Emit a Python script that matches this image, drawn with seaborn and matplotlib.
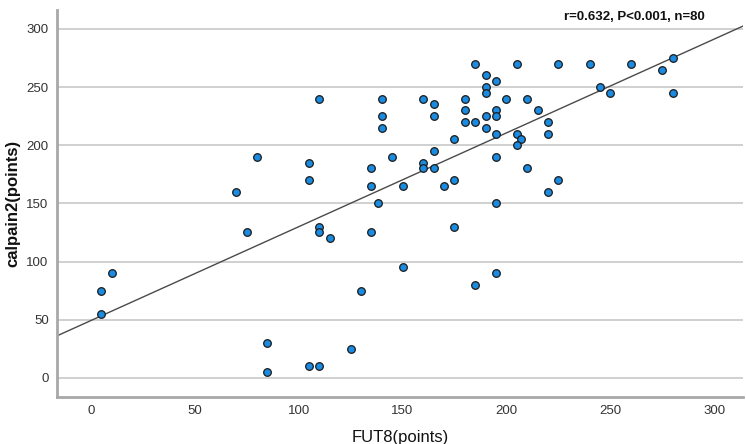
import matplotlib
matplotlib.use("Agg")
import matplotlib.pyplot as plt
import seaborn as sns
import pandas as pd

fut8 = [5, 5, 10, 70, 75, 80, 85, 85, 105, 105, 105, 110, 110, 110, 110, 115,
        125, 130, 135, 135, 135, 138, 140, 140, 140, 145, 150, 150, 160, 160,
        160, 165, 165, 165, 165, 170, 175, 175, 175, 180, 180, 180, 185, 185,
        185, 190, 190, 190, 190, 190, 195, 195, 195, 195, 195, 195, 195, 200,
        205, 205, 207, 205, 210, 210, 215, 220, 220, 220, 225, 225, 240, 245,
        250, 260, 275, 280, 280]
calpain2 = [75, 55, 90, 160, 125, 190, 30, 5, 185, 170, 10, 240, 130, 125, 10, 120,
            25, 75, 180, 165, 125, 150, 240, 225, 215, 190, 165, 95, 240, 185,
            180, 235, 225, 195, 180, 165, 205, 170, 130, 240, 230, 220, 270, 220,
            80, 260, 250, 245, 225, 215, 255, 230, 225, 210, 190, 150, 90, 240,
            270, 210, 205, 200, 240, 180, 230, 220, 210, 160, 270, 170, 270, 250,
            245, 270, 265, 275, 245]

x_ticks = [0, 50, 100, 150, 200, 250, 300]
y_ticks = [0, 50, 100, 150, 200, 250, 300]
stats_text = "r=0.632, P<0.001, n=80"

df = pd.DataFrame({"FUT8(points)": fut8, "calpain2(points)": calpain2})

sns.set_style("white")
plt.rcParams["font.family"] = ["Liberation Sans", "DejaVu Sans"]

fig = plt.figure(figsize=(7.46, 4.44), dpi=100)
ax = fig.add_axes([0.0764, 0.106, 0.92, 0.871])
ax.set_xlim(-16.3, 314)
ax.set_ylim(-16.3, 316)

sns.regplot(data=df, x="FUT8(points)", y="calpain2(points)", ax=ax, ci=None,
            truncate=False,
            scatter_kws=dict(s=30, color="#1a8be0", edgecolor="#1a1a1a",
                             linewidths=0.9, alpha=1, zorder=3),
            line_kws=dict(color="#4a4a4a", linewidth=1.0, zorder=2))

ax.set_xlim(-16.3, 314)
ax.set_ylim(-16.3, 316)
ax.set_xticks(x_ticks)
ax.set_yticks(y_ticks)
ax.yaxis.grid(True, color="#c8c8c8", linewidth=1.2, zorder=0)
ax.set_axisbelow(True)
ax.tick_params(axis="both", length=0, labelsize=9.5, labelcolor="#333333", pad=6)

for s in ["top", "right"]:
    ax.spines[s].set_visible(False)
for s in ["left", "bottom"]:
    ax.spines[s].set_color("#a8a8a8")
    ax.spines[s].set_linewidth(2)

ax.set_xlabel("FUT8(points)", fontsize=12, color="#111111", labelpad=9)
ax.set_ylabel("calpain2(points)", fontsize=12, fontweight="bold", color="#111111", labelpad=4)

ax.text(0.841, 0.983, stats_text, transform=ax.transAxes, ha="center", va="center",
        fontsize=9.5, fontweight="bold", color="#111111")

fig.savefig("out.png", dpi=100)
